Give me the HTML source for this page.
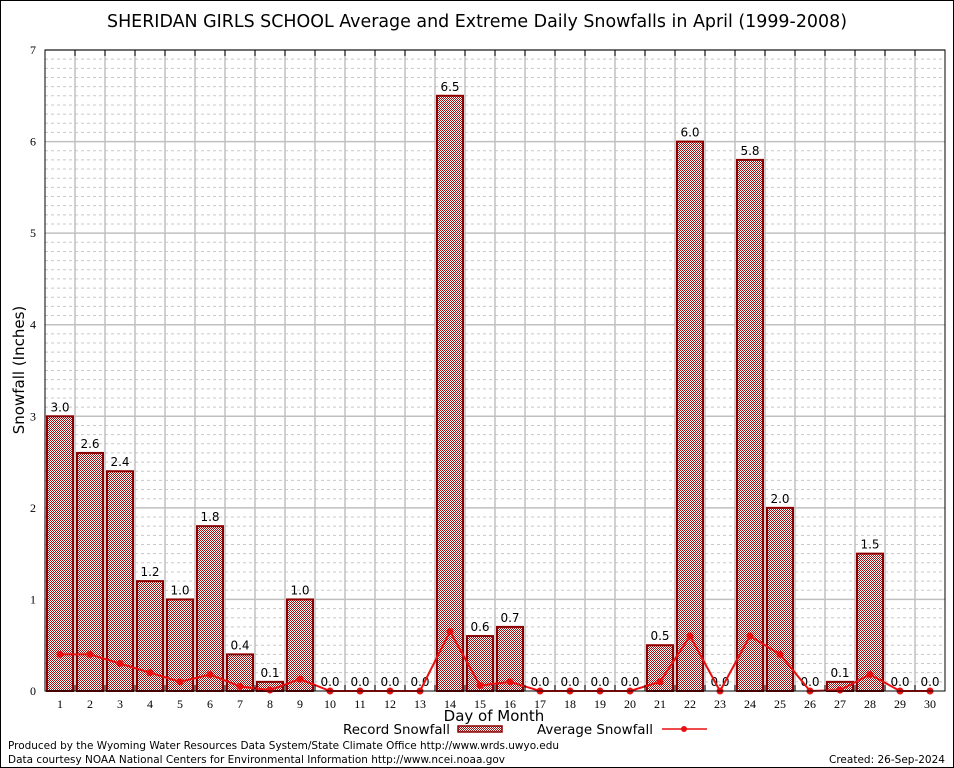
<!DOCTYPE html>
<html><head><meta charset="utf-8"><style>
body{margin:0;background:#fff}
svg{display:block;font-family:"DejaVu Sans","Liberation Sans",sans-serif}
</style></head><body>
<svg id="c" width="954" height="768">
<defs><pattern id="hatch" width="2" height="2" patternUnits="userSpaceOnUse"><rect width="2" height="2" fill="#fff"/><rect width="1" height="1" fill="#a01010"/><rect x="1" y="1" width="1" height="1" fill="#a01010"/></pattern></defs>
<rect x="0.5" y="0.5" width="953" height="767" fill="#fff" stroke="#000"/>
<text x="107" y="27" font-size="18" textLength="740" lengthAdjust="spacingAndGlyphs">SHERIDAN GIRLS SCHOOL Average and Extreme Daily Snowfalls in April (1999-2008)</text>
<g id="grid"></g><g id="bars"></g><g id="line"></g><g id="axes"></g>
<text x="24" y="370" font-size="15" text-anchor="middle" transform="rotate(-90 24 370)">Snowfall (Inches)</text>
<text x="494" y="721" font-size="15" text-anchor="middle">Day of Month</text>
<g font-size="13">
<text x="343" y="734" textLength="107" lengthAdjust="spacingAndGlyphs">Record Snowfall</text>
<rect x="458" y="726" width="44" height="6" fill="url(#hatch)" stroke="#8b0000" stroke-width="1.5"/>
<text x="537" y="734" textLength="116" lengthAdjust="spacingAndGlyphs">Average Snowfall</text>
<line x1="662" y1="729" x2="707" y2="729" stroke="#e81010" stroke-width="1.5"/>
<circle cx="684" cy="729" r="3" fill="#e81010"/>
</g>
<text x="8" y="749" font-size="11" textLength="551" lengthAdjust="spacingAndGlyphs">Produced by the Wyoming Water Resources Data System/State Climate Office http://www.wrds.uwyo.edu</text>
<text x="8" y="763" font-size="11" textLength="497" lengthAdjust="spacingAndGlyphs">Data courtesy NOAA National Centers for Environmental Information http://www.ncei.noaa.gov</text>
<text x="945" y="763" font-size="11" text-anchor="end" textLength="116" lengthAdjust="spacingAndGlyphs">Created: 26-Sep-2024</text>
</svg>
<script>
const days=[1,2,3,4,5,6,7,8,9,10,11,12,13,14,15,16,17,18,19,20,21,22,23,24,25,26,27,28,29,30];
const recordSnow=[3.0,2.6,2.4,1.2,1.0,1.8,0.4,0.1,1.0,0,0,0,0,6.5,0.6,0.7,0,0,0,0,0.5,6.0,0,5.8,2.0,0,0.1,1.5,0,0];
const avgSnow=[0.4,0.4,0.3,0.2,0.1,0.18,0.05,0.01,0.13,0,0,0,0,0.65,0.06,0.1,0,0,0,0,0.1,0.6,0,0.6,0.4,0,0.01,0.18,0,0];
const yTicks=[0,1,2,3,4,5,6,7];
const L=45,R=945,T=50,B=691,yMax=7;
const slot=(R-L)/days.length;
const xs=d=>L+slot*(d-0.5);
const ys=v=>B-(B-T)*v/yMax;
const NS="http://www.w3.org/2000/svg";
function mk(tag,attrs,parent,txt){const e=document.createElementNS(NS,tag);for(const k in attrs)e.setAttribute(k,attrs[k]);if(txt!=null)e.textContent=txt;parent.appendChild(e);return e;}
const g=document.getElementById('grid'),gb=document.getElementById('bars'),gl=document.getElementById('line'),ga=document.getElementById('axes');
for(let v=0.1;v<yMax;v+=0.1){const y=ys(v);let e;
 if(Math.abs(v-Math.round(v))<1e-6) e=mk('line',{x1:L,x2:R,y1:y,y2:y,stroke:'#c0c0c0','stroke-width':1.5},g);
 else e=mk('line',{x1:L,x2:R,y1:y,y2:y,stroke:'#c8c8c8','stroke-dasharray':'3,3'},g);
 
 }
days.forEach((d,i)=>{const x=L+slot*i;if(i>0){const e=mk('line',{x1:x,x2:x,y1:T,y2:B,stroke:'#c0c0c0','stroke-width':1.5},g);
 
 
 const tk=mk('line',{x1:x,x2:x,y1:T,y2:T+6,stroke:'#000'},ga);
 
 
 const tb=mk('line',{x1:x,x2:x,y1:B,y2:B-6,stroke:'#000'},ga);
 
 }});
days.forEach((d,i)=>{const v=recordSnow[i],x=xs(d)-13,y=ys(v);
 if(v>0){const r=mk('rect',{x:x,y:y,width:26,height:B-y,fill:'url(#hatch)',stroke:'#8b0000','stroke-width':2},gb);
 
 }
 const t=mk('text',{x:xs(d),y:y-5,'font-size':12,'text-anchor':'middle'},gb,v.toFixed(1));
 
 });
const pts=days.map((d,i)=>xs(d)+','+ys(avgSnow[i])).join(' ');
const pl=mk('polyline',{points:pts,fill:'none',stroke:'#e81010','stroke-width':2},gl);


days.forEach((d,i)=>{const c=mk('circle',{cx:xs(d),cy:ys(avgSnow[i]),r:3.5,fill:'#e81010'},gl);
 
 });
const fr=mk('rect',{x:L,y:T,width:R-L,height:B-T,fill:'none',stroke:'#000'},ga);


yTicks.forEach(v=>{const t=mk('text',{x:L-9,y:ys(v)+4,'font-size':12,'text-anchor':'end','font-family':'Liberation Serif, serif'},ga,String(v));
 
 });
days.forEach(d=>{const t=mk('text',{x:xs(d),y:B+17,'font-size':12,'text-anchor':'middle','font-family':'Liberation Serif, serif'},ga,String(d));
 
 });
</script>
</body></html>
